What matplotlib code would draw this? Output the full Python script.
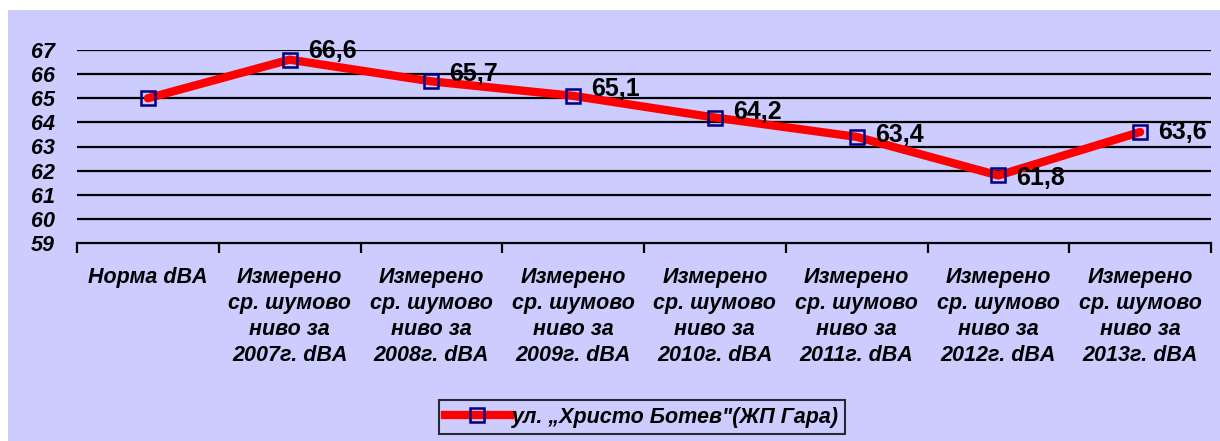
import matplotlib
matplotlib.use("Agg")
import matplotlib.pyplot as plt
from matplotlib.patches import Rectangle
from matplotlib.lines import Line2D

categories = [
    "Норма dBA",
    "Измерено\nср. шумово\nниво за\n2007г. dBA",
    "Измерено\nср. шумово\nниво за\n2008г. dBA",
    "Измерено\nср. шумово\nниво за\n2009г. dBA",
    "Измерено\nср. шумово\nниво за\n2010г. dBA",
    "Измерено\nср. шумово\nниво за\n2011г. dBA",
    "Измерено\nср. шумово\nниво за\n2012г. dBA",
    "Измерено\nср. шумово\nниво за\n2013г. dBA",
]
values = [65.0, 66.6, 65.7, 65.1, 64.2, 63.4, 61.8, 63.6]
value_labels = ["", "66,6", "65,7", "65,1", "64,2", "63,4", "61,8", "63,6"]
series_name = "ул. „Христо Ботев\"(ЖП Гара)"
y_ticks = [59, 60, 61, 62, 63, 64, 65, 66, 67]

BG = "#CCCCFF"
FONT = ["Liberation Sans", "DejaVu Sans"]
plt.rcParams["font.family"] = FONT

fig = plt.figure(figsize=(12.2, 4.41), dpi=100, facecolor="white")
bg = Rectangle((8 / 1220, 0), 1 - 8 / 1220, 1 - 10 / 441,
               transform=fig.transFigure, facecolor=BG,
               edgecolor="none", zorder=-10)
fig.patches.append(bg)

ax = fig.add_axes([77 / 1220, 1 - 243 / 441, (1211 - 77) / 1220, (243 - 50) / 441])
ax.set_facecolor("none")
ax.set_zorder(5)

x = list(range(len(values)))
ax.plot(x, values, color="#FF0000", linewidth=6, solid_capstyle="round",
        zorder=3)
ax.plot(x, values, linestyle="none", marker="s", markersize=10,
        markerfacecolor="none", markeredgecolor="#000080",
        markeredgewidth=1.8, zorder=4)

offsets = [(0, 0), (13, 6), (13, 5), (13, 5), (13, 4), (13, 1), (13, -2), (13, 0)]
for xi, v, lab, off in zip(x, values, value_labels, offsets):
    if lab:
        ax.annotate(lab, (xi, v), xytext=off, textcoords="offset points",
                    ha="left", va="center", fontsize=18, fontweight="bold",
                    color="black", zorder=5)

ax.set_xlim(-0.5, len(values) - 0.5)
ax.set_ylim(59, 67)
ax.set_yticks(y_ticks)
ax.set_yticklabels([str(t) for t in y_ticks], fontsize=15.5, fontweight="bold",
                   fontstyle="italic")
for t in y_ticks[1:]:
    ax.axhline(t, color="black", linewidth=1.6, zorder=1)

ax.set_xticks(x)
ax.set_xticklabels(categories, fontsize=15.5, fontweight="bold",
                   fontstyle="italic", linespacing=1.32, va="top")
ax.tick_params(axis="x", length=0, pad=17)
ax.set_xticks([i - 0.5 for i in range(len(values) + 1)], minor=True)
ax.tick_params(axis="x", which="minor", length=7, width=1.6, direction="out",
               color="black")
ax.tick_params(axis="y", length=0, pad=16)

for s in ["top", "right", "left"]:
    ax.spines[s].set_visible(False)
ax.spines["bottom"].set_linewidth(1.6)
ax.spines["bottom"].set_color("black")

handle = Line2D([], [], color="#FF0000", linewidth=6, marker="s",
                markersize=10, markerfacecolor="none",
                markeredgecolor="#000080", markeredgewidth=1.8)
leg = fig.legend([handle], [series_name], loc="center",
                 bbox_to_anchor=(642 / 1220, 1 - 417 / 441),
                 frameon=True, fancybox=False, handlelength=3.0,
                 prop={"family": FONT, "size": 15.5, "weight": "bold",
                       "style": "italic"},
                 borderpad=0.3, borderaxespad=0, handletextpad=0.1)
leg.get_frame().set_edgecolor("black")
leg.get_frame().set_linewidth(1.5)
leg.get_frame().set_facecolor(BG)

fig.savefig("out.png", dpi=100, facecolor="white")
